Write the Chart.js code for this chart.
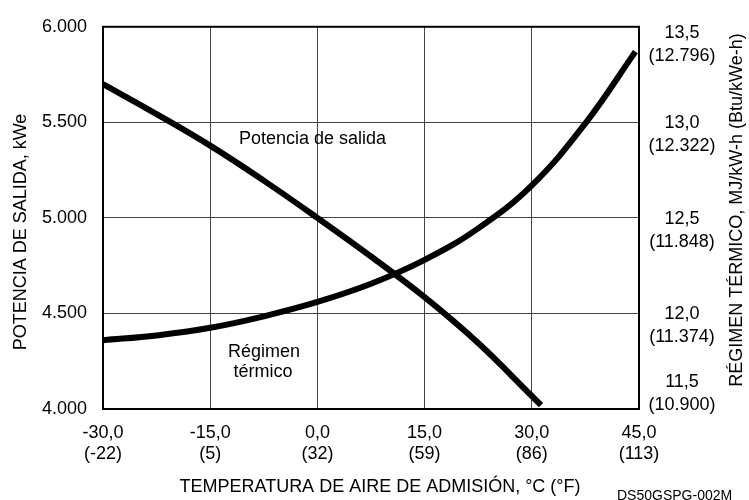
<!DOCTYPE html>
<html>
<head>
<meta charset="utf-8">
<script src="https://cdn.jsdelivr.net/npm/chart.js@4/dist/chart.umd.min.js"></script>
<style>
  html, body { margin: 0; padding: 0; background: #fff; }
</style>
</head>
<body>
<canvas id="chart" width="749" height="500"></canvas>
<script>
// datos
const tempPower = [-30, -22.5, -15, -7.5, 0, 7.5, 15, 22.5, 30, 31.3];
const powerKWe  = [5700, 5543, 5378, 5195, 5000, 4798, 4585, 4345, 4068, 4020];

const tempHeat = [-30, -22.5, -15, -7.5, 0, 7.5, 15, 22.5, 30, 37.5, 44.5];
const heatRate = [11.86, 11.885, 11.925, 11.985, 12.06, 12.155, 12.28, 12.445, 12.67, 12.995, 13.37];

const xTicks = [-30, -15, 0, 15, 30, 45];
const xTickLabels = [["-30,0", "(-22)"], ["-15,0", "(5)"], ["0,0", "(32)"],
                     ["15,0", "(59)"], ["30,0", "(86)"], ["45,0", "(113)"]];

const yTicks = [4000, 4500, 5000, 5500, 6000];
const yTickLabels = ["4.000", "4.500", "5.000", "5.500", "6.000"];

const y2Ticks = [11.5, 12.0, 12.5, 13.0, 13.5];
const y2TickLabels = [["11,5", "(10.900)"], ["12,0", "(11.374)"], ["12,5", "(11.848)"],
                      ["13,0", "(12.322)"], ["13,5", "(12.796)"]];

const FONT = "Liberation Sans, Arial, sans-serif";

function pts(xs, ys) {
    return xs.map((x, i) => ({ x: x, y: ys[i] }));
}

// -----------------------------
// textos extra + marco
// -----------------------------
const extras = {
    id: "extras",
    afterDraw(chart) {
        const ctx = chart.ctx;
        const a = chart.chartArea;
        const y2 = chart.scales.y2;

        ctx.save();
        ctx.fillStyle = "#000";

        // etiquetas del eje derecho (dos lineas)
        ctx.font = "18px " + FONT;
        ctx.textAlign = "center";
        ctx.textBaseline = "middle";
        y2Ticks.forEach((v, i) => {
            let yy = y2.getPixelForValue(v) + 1;
            if (yy < a.top + 6) yy = a.top + 6;
            if (yy + 23 > a.bottom - 4) yy = a.bottom - 27;
            ctx.fillText(y2TickLabels[i][0], 682, yy);
            ctx.fillText(y2TickLabels[i][1], 682, yy + 23);
        });

        // titulos de ejes
        ctx.save();
        ctx.translate(21, 232);
        ctx.rotate(-Math.PI / 2);
        ctx.fillText("POTENCIA DE SALIDA, kWe", 0, 0);
        ctx.restore();

        ctx.save();
        ctx.translate(737, 210);
        ctx.rotate(-Math.PI / 2);
        ctx.fillText("RÉGIMEN TÉRMICO, MJ/kW-h (Btu/kWe-h)", 0, 0);
        ctx.restore();

        ctx.fillText("TEMPERATURA DE AIRE DE ADMISIÓN, °C (°F)", 380, 487);

        // rotulos de curvas
        ctx.textBaseline = "alphabetic";
        ctx.textAlign = "left";
        ctx.fillText("Potencia de salida", 239, 144);
        ctx.textAlign = "center";
        ctx.fillText("Régimen", 264, 357);
        ctx.fillText("térmico", 263, 377);

        ctx.textAlign = "left";
        ctx.font = "14px " + FONT;
        ctx.fillText("DS50GSPG-002M", 617, 500);

        // marco
        ctx.strokeStyle = "#000";
        ctx.lineWidth = 2;
        ctx.strokeRect(a.left, a.top, a.right - a.left, a.bottom - a.top);
        ctx.restore();
    }
};

new Chart(document.getElementById("chart"), {
    type: "line",
    data: {
        datasets: [
            {
                label: "Potencia de salida",
                data: pts(tempPower, powerKWe),
                yAxisID: "y",
                borderColor: "#000",
                borderWidth: 6,
                pointRadius: 0,
                tension: 0.4,
                fill: false
            },
            {
                label: "Régimen térmico",
                data: pts(tempHeat, heatRate),
                yAxisID: "y2",
                borderColor: "#000",
                borderWidth: 6,
                pointRadius: 0,
                tension: 0.4,
                fill: false
            }
        ]
    },
    options: {
        responsive: false,
        animation: false,
        devicePixelRatio: 1,
        layout: { padding: { top: 16, left: 0, right: 0, bottom: 0 } },
        plugins: {
            legend: { display: false },
            tooltip: { enabled: false }
        },
        scales: {
            x: {
                type: "linear",
                min: -30,
                max: 45,
                afterBuildTicks: s => { s.ticks = xTicks.map(v => ({ value: v })); },
                afterFit: s => { s.height = 91; },
                ticks: {
                    color: "#000",
                    font: { family: FONT, size: 18 },
                    padding: 13,
                    maxRotation: 0,
                    autoSkip: false,
                    callback: v => xTickLabels[xTicks.indexOf(v)]
                },
                grid: { color: "#444", lineWidth: 1, drawTicks: false },
                border: { display: false }
            },
            y: {
                position: "left",
                min: 4000,
                max: 6000,
                afterBuildTicks: s => { s.ticks = yTicks.map(v => ({ value: v })); },
                afterFit: s => { s.width = 103; },
                ticks: {
                    color: "#000",
                    font: { family: FONT, size: 18 },
                    padding: 16,
                    callback: v => yTickLabels[yTicks.indexOf(v)]
                },
                grid: { color: "#444", lineWidth: 1, drawTicks: false },
                border: { display: false }
            },
            y2: {
                position: "right",
                min: 11.5,
                max: 13.5,
                afterBuildTicks: s => { s.ticks = y2Ticks.map(v => ({ value: v })); },
                afterFit: s => { s.width = 110; },
                ticks: { display: false },
                grid: { display: false, drawTicks: false },
                border: { display: false }
            }
        }
    },
    plugins: [extras]
});
</script>
</body>
</html>
